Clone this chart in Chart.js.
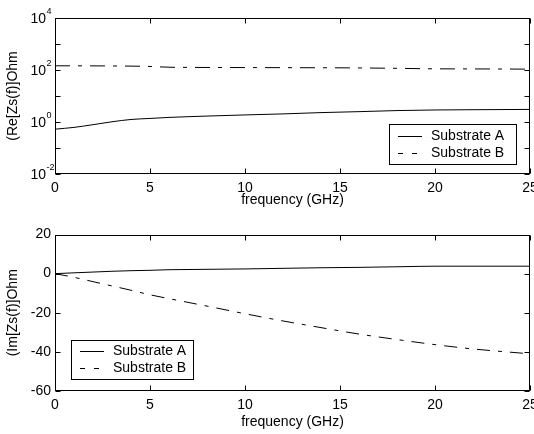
<!DOCTYPE html>
<html>
<head>
<meta charset="utf-8">
<script src="https://cdn.jsdelivr.net/npm/chart.js@4.4.1/dist/chart.umd.min.js"></script>
<style>
body { margin: 0; background: #fff; }
#wrap { position: relative; width: 534px; height: 434px; }
canvas { position: absolute; left: 0; }
</style>
</head>
<body>
<div id="wrap">
    <canvas id="reChart" width="534" height="217" style="top:0"></canvas>
    <canvas id="imChart" width="534" height="217" style="top:217px"></canvas>
</div>
<script>
// ================= DATA =================

const freq = [0, 1, 2, 3, 4, 5, 6, 7, 8, 10, 12, 14, 16, 18, 20, 22, 25];

// Re[Zs(f)] (log axis)
const reA = [0.53, 0.62, 0.79, 1.02, 1.25, 1.37, 1.5, 1.6, 1.69, 1.87, 2.05, 2.3, 2.5, 2.75, 2.9, 2.97, 3.05];
const reB = [145, 145, 144, 143, 141, 137, 128, 126, 125, 124, 123, 122, 120, 116, 111, 110, 108];

// Im[Zs(f)]
const imA = [0, 0.4, 0.8, 1.2, 1.5, 1.7, 2.0, 2.1, 2.2, 2.4, 2.7, 3.0, 3.2, 3.5, 3.8, 3.8, 3.8];
const imB = [0, -1.9, -4.1, -6.3, -8.5, -10.8, -12.8, -14.7, -16.6, -20.5, -24.2, -27.6, -30.9, -33.7, -36.3, -38.5, -41];

const seriesNames = ["Substrate A", "Substrate B"];

const freqTicks = [0, 5, 10, 15, 20, 25];
const reTicks = [1e-2, 1e-1, 1e0, 1e1, 1e2, 1e3, 1e4];
const reTickExp = { "-2": "-2", "0": "0", "2": "2", "4": "4" };   // labelled decades
const imTicks = [-60, -40, -20, 0, 20];

const xTitle = "frequency (GHz)";
const reTitle = "(Re[Zs(f)]Ohm";
const imTitle = "(Im[Zs(f)]Ohm";

// ================= HELPERS =================

const FONT = "'Liberation Sans', Arial, sans-serif";

function pts(ys)
{
    return freq.map((f, i) => ({ x: f, y: ys[i] }));
}

// box round the plot, inward ticks on all 4 sides, 10^n labels, boxed legend
const framePlugin = {
    id: "frame",
    afterDraw(chart, args, opts)
    {
        const ctx = chart.ctx;
        const a = chart.chartArea;
        const xs = chart.scales.x;
        const ys = chart.scales.y;

        ctx.save();
        ctx.strokeStyle = "#000";
        ctx.lineWidth = 1;
        ctx.setLineDash([]);

        const L = Math.round(a.left) + 0.5;
        const R = Math.round(a.right) - 0.5;
        const T = Math.round(a.top) + 0.5;
        const B = Math.round(a.bottom) - 0.5;

        ctx.strokeRect(L, T, R - L, B - T);

        ctx.beginPath();
        xs.ticks.forEach(t => {
            const px = Math.round(xs.getPixelForValue(t.value)) + 0.5;
            ctx.moveTo(px, B); ctx.lineTo(px, B - 5);
            ctx.moveTo(px, T); ctx.lineTo(px, T + 5);
        });
        ys.ticks.forEach(t => {
            const py = Math.round(ys.getPixelForValue(t.value)) + 0.5;
            ctx.moveTo(L, py); ctx.lineTo(L + 5, py);
            ctx.moveTo(R, py); ctx.lineTo(R - 5, py);
        });
        ctx.stroke();

        ctx.fillStyle = "#000";
        ctx.textBaseline = "middle";

        // 10^n tick labels on the log axis
        if (opts.powers)
        {
            ys.ticks.forEach(t => {
                const e = reTickExp[Math.round(Math.log10(t.value))];
                if (e === undefined)
                    return;
                const py = ys.getPixelForValue(t.value);
                ctx.font = "14px " + FONT;
                ctx.textAlign = "right";
                ctx.fillText("10", a.left - 9, py + 1);
                ctx.font = "9px " + FONT;
                ctx.textAlign = "left";
                ctx.fillText(e, a.left - 8.5, py - 6);
            });
        }

        // legend
        const lg = opts.legend;
        ctx.fillStyle = "#fff";
        ctx.fillRect(lg.left, lg.top, lg.width, lg.height);
        ctx.strokeRect(lg.left + 0.5, lg.top + 0.5, lg.width, lg.height);

        ctx.font = "14px " + FONT;
        ctx.textAlign = "left";
        ctx.fillStyle = "#000";

        chart.data.datasets.forEach((ds, i) => {
            const y = Math.round(lg.top + lg.rows[i]) + 0.5;
            ctx.beginPath();
            ctx.setLineDash(ds.legendDash || []);
            ctx.moveTo(lg.left + 9, y);
            ctx.lineTo(lg.left + 33, y);
            ctx.stroke();
            ctx.fillText(ds.label, lg.left + 42, y);
        });

        ctx.restore();
    }
};

function baseOptions(padTop, titleBottom, legend)
{
    return {
        responsive: false,
        animation: false,
        devicePixelRatio: 1,
        layout: { padding: { top: padTop, right: 4, left: 0, bottom: 0 } },
        plugins: {
            legend: { display: false },
            tooltip: { enabled: false },
            frame: { legend: legend, powers: false }
        },
        elements: { point: { radius: 0 } },
        scales: {
            x: {
                type: "linear",
                min: 0,
                max: 25,
                afterBuildTicks: s => { s.ticks = freqTicks.map(v => ({ value: v })); },
                afterFit: s => { s.height = 43; s.paddingLeft = 0; s.paddingRight = 0; },
                grid: { display: false, drawTicks: false },
                border: { display: false },
                ticks: {
                    color: "#000",
                    padding: 6,
                    maxRotation: 0,
                    font: { family: FONT, size: 14 }
                },
                title: {
                    display: true,
                    text: xTitle,
                    color: "#000",
                    padding: { top: 0, bottom: titleBottom },
                    font: { family: FONT, size: 14 }
                }
            }
        }
    };
}

// ================= GRAFICA Re =================

const reOpts = baseOptions(18, 8, { left: 389, top: 124, width: 127, height: 40, rows: [12, 29] });
reOpts.plugins.frame.powers = true;

reOpts.scales.y = {
    type: "logarithmic",
    min: 1e-2,
    max: 1e4,
    afterBuildTicks: s => { s.ticks = reTicks.map(v => ({ value: v })); },
    afterFit: s => { s.width = 55; s.paddingTop = 0; s.paddingBottom = 0; },
    grid: { display: false, drawTicks: false },
    border: { display: false },
    ticks: {
        color: "#000",
        padding: 4,
        autoSkip: false,
        font: { family: FONT, size: 14 },
        callback: () => ""
    },
    title: {
        display: true,
        text: reTitle,
        color: "#000",
        padding: { top: 5, bottom: 0 },
        font: { family: FONT, size: 14 }
    }
};

new Chart(document.getElementById("reChart"), {
    type: "line",
    data: {
        datasets: [
            {
                label: seriesNames[0],
                data: pts(reA),
                borderColor: "#000",
                borderWidth: 1,
                cubicInterpolationMode: "monotone"
            },
            {
                label: seriesNames[1],
                data: pts(reB),
                borderColor: "#000",
                borderWidth: 1,
                borderDash: [15, 8, 4, 8],
                legendDash: [5, 9],
                cubicInterpolationMode: "monotone"
            }
        ]
    },
    options: reOpts,
    plugins: [framePlugin]
});

// ================= GRAFICA Im =================

const imOpts = baseOptions(17.5, 3.5, { left: 71, top: 123, width: 122, height: 39, rows: [11, 27.5] });

imOpts.scales.y = {
    type: "linear",
    min: -60,
    max: 20,
    afterBuildTicks: s => { s.ticks = imTicks.map(v => ({ value: v })); },
    afterFit: s => { s.width = 55; s.paddingTop = 0; s.paddingBottom = 0; },
    grid: { display: false, drawTicks: false },
    border: { display: false },
    ticks: {
        color: "#000",
        padding: 4,
        font: { family: FONT, size: 14 }
    },
    title: {
        display: true,
        text: imTitle,
        color: "#000",
        padding: { top: 5, bottom: 0 },
        font: { family: FONT, size: 14 }
    }
};

new Chart(document.getElementById("imChart"), {
    type: "line",
    data: {
        datasets: [
            {
                label: seriesNames[0],
                data: pts(imA),
                borderColor: "#000",
                borderWidth: 1,
                cubicInterpolationMode: "monotone"
            },
            {
                label: seriesNames[1],
                data: pts(imB),
                borderColor: "#000",
                borderWidth: 1,
                borderDash: [13, 8, 4, 8],
                legendDash: [5, 9],
                cubicInterpolationMode: "monotone"
            }
        ]
    },
    options: imOpts,
    plugins: [framePlugin]
});
</script>
</body>
</html>
